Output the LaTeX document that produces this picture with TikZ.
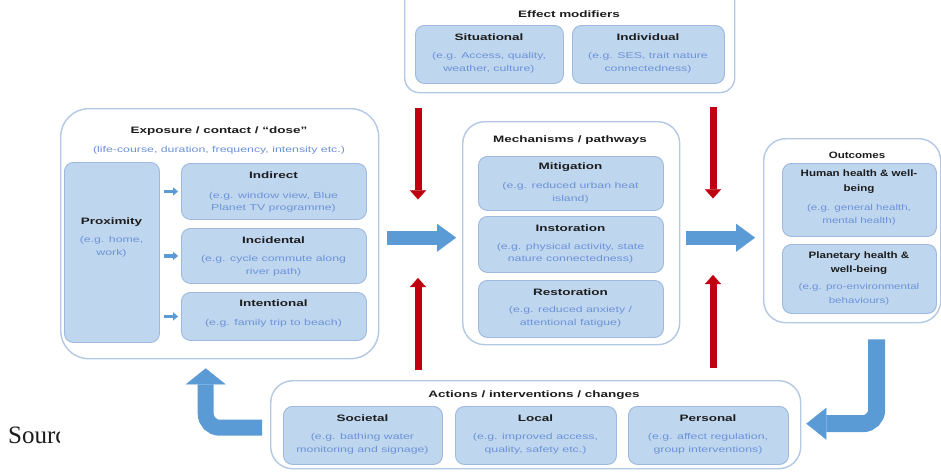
\documentclass[tikz,border=0pt]{standalone}
\usepackage{fontspec}
\usetikzlibrary{arrows.meta}
\newfontfamily\df[FakeStretch=1.45]{Liberation Sans}
\newfontfamily\dfo[FakeStretch=1.24]{Liberation Sans}
\newfontfamily\dfp[FakeStretch=1.36]{Liberation Sans}
\newfontfamily\srcf{Liberation Serif}
\definecolor{outerc}{HTML}{B3C8E4}
\definecolor{innerd}{HTML}{9DB9DD}
\definecolor{innerf}{HTML}{BFD6EF}
\definecolor{descc}{HTML}{6C92D8}
\definecolor{titlec}{HTML}{1C1C1C}
\definecolor{bluearr}{HTML}{5B9BD5}
\definecolor{redarr}{HTML}{BE0010}
\begin{document}
\begin{tikzpicture}[x=1pt,y=-1pt,
  outer/.style={draw=outerc, line width=1.4pt, fill=white, rounded corners=22pt, inner sep=0pt, anchor=north west},
  inner/.style={draw=innerd, line width=0.9pt, fill=innerf, rounded corners=9pt, inner sep=0pt, anchor=north west},
  ttl/.style={font=\df\bfseries\fontsize{9.3}{14.5}\selectfont, text=titlec, inner sep=0pt, align=center},
  dsc/.style={font=\df\fontsize{8.5}{12.5}\selectfont, text=descc, inner sep=0pt, align=center},
  ttlo/.style={ttl, font=\dfo\bfseries\fontsize{9.3}{14.5}\selectfont},
  dsco/.style={dsc, font=\dfp\fontsize{8.5}{13.5}\selectfont},
  bigarr/.style={draw=bluearr, line width=14pt, -{Triangle[width=28pt,length=19pt,line width=0.1pt]}},
  curvarr/.style={draw=bluearr, line width=16pt, rounded corners=14pt},
  smallarr/.style={draw=bluearr, line width=3.5pt, -{Triangle[width=8pt,length=5pt,line width=0.1pt]}},
  redar/.style={draw=redarr, line width=7pt, -{Triangle[width=16pt,length=9pt,line width=0.1pt]}}
]
\clip (0,0) rectangle (941,471);

% Effect modifiers
\node[outer, rounded corners=15pt, minimum width=330pt, minimum height=112pt] (effm) at (404,-20) {};
\node[ttl] (effm-t) at (569,14) {Effect modifiers};
\node[inner, minimum width=148pt, minimum height=58pt] (sit) at (415,25) {};
\node[ttl] (sit-t) at (489,37) {Situational};
\node[dsc] (sit-d) at (489,63) {(e.g. Access, quality,\\weather, culture)};
\node[inner, minimum width=152pt, minimum height=58pt] (indv) at (572,25) {};
\node[ttl] (indv-t) at (648,37) {Individual};
\node[dsc] (indv-d) at (648,63) {(e.g. SES, trait nature\\connectedness)};

% Exposure
\node[outer, rounded corners=28pt, minimum width=318pt, minimum height=250pt] (expo) at (60,108) {};
\node[ttl] (expo-t) at (219,131) {Exposure / contact / “dose”};
\node[dsc] (expo-d) at (219,150) {(life-course, duration, frequency, intensity etc.)};
\node[inner, minimum width=95pt, minimum height=180pt] (prox) at (64,162) {};
\node[ttl] (prox-t) at (111.5,222) {Proximity};
\node[dsc] (prox-d) at (111.5,247) {(e.g. home,\\work)};
\node[inner, minimum width=185pt, minimum height=56pt] (ind) at (181,163) {};
\node[ttl] (ind-t) at (273.5,175) {Indirect};
\node[dsc] (ind-d) at (273.5,202.5) {(e.g. window view, Blue\\Planet TV programme)};
\node[inner, minimum width=185pt, minimum height=55pt] (inc) at (181,228) {};
\node[ttl] (inc-t) at (273.5,240) {Incidental};
\node[dsc] (inc-d) at (273.5,266) {(e.g. cycle commute along\\river path)};
\node[inner, minimum width=185pt, minimum height=48pt] (intl) at (181,292) {};
\node[ttl] (intl-t) at (273.5,303) {Intentional};
\node[dsc] (intl-d) at (273.5,323) {(e.g. family trip to beach)};

% Mechanisms
\node[outer, minimum width=217pt, minimum height=223pt] (mech) at (462,121) {};
\node[ttl] (mech-t) at (570,140) {Mechanisms / pathways};
\node[inner, minimum width=185pt, minimum height=54pt] (mit) at (478,156) {};
\node[ttl] (mit-t) at (570.5,167) {Mitigation};
\node[dsc] (mit-d) at (570.5,193) {(e.g. reduced urban heat\\island)};
\node[inner, minimum width=185pt, minimum height=56pt] (inst) at (478,216) {};
\node[ttl] (inst-t) at (570.5,228) {Instoration};
\node[dsc] (inst-d) at (570.5,253.5) {(e.g. physical activity, state\\nature connectedness)};
\node[inner, minimum width=185pt, minimum height=57pt] (rest) at (478,280) {};
\node[ttl] (rest-t) at (570.5,292) {Restoration};
\node[dsc] (rest-d) at (570.5,317) {(e.g. reduced anxiety /\\attentional fatigue)};

% Outcomes
\node[outer, minimum width=177pt, minimum height=184pt] (outc) at (763,138) {};
\node[ttlo] (outc-t) at (857,155) {Outcomes};
\node[inner, minimum width=154pt, minimum height=73pt] (hum) at (782,163) {};
\node[ttlo] (hum-t) at (859,181.5) {Human health \& well-\\being};
\node[dsco] (hum-d) at (859,215) {(e.g. general health,\\mental health)};
\node[inner, minimum width=154pt, minimum height=69pt] (pla) at (782,244) {};
\node[ttlo] (pla-t) at (859,263) {Planetary health \&\\well-being};
\node[dsco] (pla-d) at (859,294.5) {(e.g. pro-environmental\\behaviours)};

% Actions
\node[outer, minimum width=530pt, minimum height=88pt] (actn) at (270,380) {};
\node[ttl] (actn-t) at (534,395) {Actions / interventions / changes};
\node[inner, minimum width=159pt, minimum height=58pt] (soc) at (283,406) {};
\node[ttl] (soc-t) at (362.5,418) {Societal};
\node[dsc] (soc-d) at (362.5,444) {(e.g. bathing water\\monitoring and signage)};
\node[inner, minimum width=161pt, minimum height=58pt] (loc) at (455,406) {};
\node[ttl] (loc-t) at (535.5,418) {Local};
\node[dsc] (loc-d) at (535.5,444) {(e.g. improved access,\\quality, safety etc.)};
\node[inner, minimum width=160pt, minimum height=58pt] (per) at (628,406) {};
\node[ttl] (per-t) at (708,418) {Personal};
\node[dsc] (per-d) at (708,444) {(e.g. affect regulation,\\group interventions)};

% small arrows
\draw[smallarr] ([xshift=4pt]prox.east |- ind.west) -- ([xshift=-3pt]ind.west);
\draw[smallarr] ([xshift=4pt]prox.east |- inc.west) -- ([xshift=-3pt]inc.west);
\draw[smallarr] ([xshift=4pt]prox.east |- intl.west) -- ([xshift=-3pt]intl.west);

% big blue arrows
\draw[bigarr] ([shift={(8pt,-4pt)}]expo.east) -- ([shift={(-6pt,-4.5pt)}]mech.west);
\draw[bigarr] ([shift={(6pt,-4.5pt)}]mech.east) -- ([shift={(-8pt,-7pt)}]outc.west);

% red arrows
\draw[redar] ([shift={(14pt,-15pt)}]effm.south west) -- ([shift={(14pt,-106pt)}]effm.south west);
\draw[redar] ([shift={(309pt,-14pt)}]effm.south west) -- ([shift={(309pt,-105pt)}]effm.south west);
\draw[redar] ([shift={(148pt,10pt)}]actn.north west) -- ([shift={(148pt,102pt)}]actn.north west);
\draw[redar] ([shift={(443pt,12pt)}]actn.north west) -- ([shift={(443pt,105pt)}]actn.north west);

% curved arrows
\draw[curvarr, -{Triangle[width=40pt,length=16pt,line width=0.1pt]}] ([shift={(-8pt,-3pt)}]actn.west) -| ([shift={(-14pt,-9pt)}]expo.south);
\draw[curvarr, line width=17pt, -{Triangle[width=32pt,length=20pt,line width=0.1pt]}] ([shift={(24.5pt,-16pt)}]outc.south) |- ([shift={(5pt,1pt)}]actn.east);

% source text (partly hidden in the reference)
\begin{scope}
\clip (0,400) rectangle (59.5,471);
\node[font=\srcf\fontsize{25}{25}\selectfont, text=titlec, anchor=base west, inner sep=0pt] (src) at (8,443) {Source};
\end{scope}
\end{tikzpicture}
\end{document}
